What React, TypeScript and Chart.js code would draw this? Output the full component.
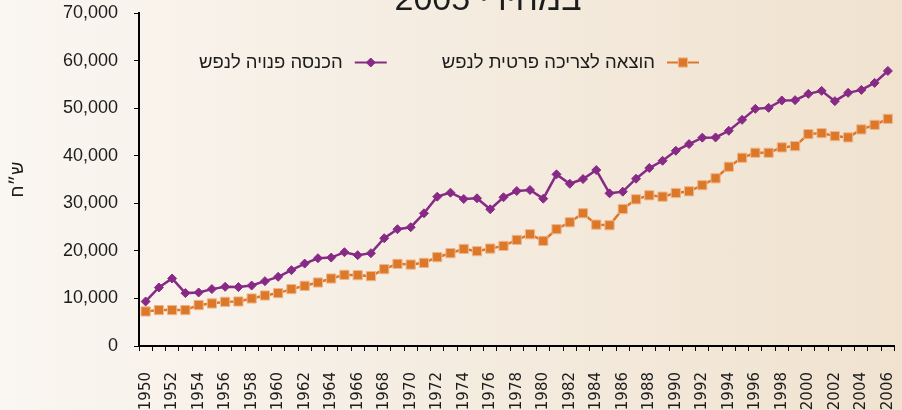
import React, { useEffect, useRef } from 'react';
import { Chart, registerables } from 'chart.js';

Chart.register(...registerables);

const years = [
  '1950', '1951', '1952', '1953', '1954', '1955', '1956', '1957', '1958', '1959',
  '1960', '1961', '1962', '1963', '1964', '1965', '1966', '1967', '1968', '1969',
  '1970', '1971', '1972', '1973', '1974', '1975', '1976', '1977', '1978', '1979',
  '1980', '1981', '1982', '1983', '1984', '1985', '1986', '1987', '1988', '1989',
  '1990', '1991', '1992', '1993', '1994', '1995', '1996', '1997', '1998', '1999',
  '2000', '2001', '2002', '2003', '2004', '2005', '2006',
];

const disposableIncome = [
  9360, 12300, 14190, 11120, 11250, 11960, 12440, 12380, 12710, 13630,
  14540, 15940, 17330, 18450, 18590, 19720, 19090, 19510, 22660, 24550,
  24970, 27900, 31390, 32230, 30900, 31050, 28740, 31260, 32580, 32790,
  30970, 36080, 34110, 35100, 36990, 32090, 32440, 35170, 37410, 38940,
  41040, 42440, 43800, 43840, 45240, 47540, 49850, 50060, 51610, 51680,
  53000, 53630, 51470, 53210, 53840, 55310, 57820,
];

const privateConsumption = [
  7260, 7550, 7550, 7550, 8600, 8940, 9290, 9360, 9990, 10620,
  11120, 11960, 12650, 13350, 14190, 14960, 14890, 14690, 16150, 17270,
  17120, 17480, 18670, 19510, 20410, 19930, 20480, 21040, 22300, 23490,
  22090, 24550, 26010, 27900, 25510, 25380, 28800, 30840, 31680, 31390,
  32160, 32520, 33800, 35250, 37680, 39570, 40620, 40620, 41750, 42020,
  44540, 44750, 44120, 43850, 45530, 46490, 47750,
];

const incomeLabel = 'הכנסה פנויה לנפש';
const consumptionLabel = 'הוצאה לצריכה פרטית לנפש';
const yAxisTitle = 'ש״ח';
const chartTitle = 'במחירי 2005';
const yMin = 0;
const yMax = 70000;
const yStep = 10000;

const PURPLE = '#862a86';
const ORANGE = '#dc782a';
const ORANGE_EDGE = '#f0b58a';
const TEXT = '#1c1c1c';

const titlePlugin = {
  id: 'clippedTitle',
  afterDraw(chart: any) {
    const ctx = chart.ctx;
    ctx.save();
    ctx.font = '34px "Liberation Sans", Arial, sans-serif';
    ctx.fillStyle = TEXT;
    ctx.direction = 'rtl';
    ctx.textAlign = 'center';
    ctx.textBaseline = 'alphabetic';
    ctx.fillText(chartTitle, 488, 10);
    ctx.restore();
  },
};

const legendPlugin = {
  id: 'rtlLegend',
  afterDraw(chart: any) {
    const ctx = chart.ctx;
    const order = [1, 0];
    let x = 699;
    const y = 62.5;
    ctx.save();
    ctx.font = '18.5px "Liberation Sans", Arial, sans-serif';
    ctx.textBaseline = 'middle';
    ctx.textAlign = 'right';
    for (const i of order) {
      const ds = chart.data.datasets[i];
      const lineRight = x;
      const lineLeft = x - 32;
      ctx.strokeStyle = ds.borderColor;
      ctx.lineWidth = 2;
      ctx.beginPath();
      ctx.moveTo(lineLeft, y);
      ctx.lineTo(lineRight, y);
      ctx.stroke();
      const cx = (lineLeft + lineRight) / 2;
      ctx.fillStyle = ds.pointBackgroundColor;
      ctx.strokeStyle = ds.pointBorderColor;
      ctx.lineWidth = 1;
      ctx.beginPath();
      if (ds.pointStyle === 'rectRot') {
        const r = 4.5;
        ctx.moveTo(cx, y - r);
        ctx.lineTo(cx + r, y);
        ctx.lineTo(cx, y + r);
        ctx.lineTo(cx - r, y);
        ctx.closePath();
      } else {
        const h = 4.6;
        ctx.rect(cx - h, y - h, 2 * h, 2 * h);
      }
      ctx.fill();
      ctx.stroke();
      const textRight = lineLeft - 12;
      ctx.fillStyle = TEXT;
      ctx.fillText(ds.label, textRight, y);
      const w = ctx.measureText(ds.label).width;
      x = textRight - w - 55;
    }
    ctx.restore();
  },
};

export default function App() {
  const canvasRef = useRef<HTMLCanvasElement | null>(null);

  useEffect(() => {
    const canvas = canvasRef.current;
    if (!canvas) return;
    const chart = new Chart(canvas, {
      type: 'line',
      data: {
        labels: years,
        datasets: [
          {
            label: incomeLabel,
            data: disposableIncome,
            borderColor: PURPLE,
            backgroundColor: PURPLE,
            pointBackgroundColor: PURPLE,
            pointBorderColor: PURPLE,
            pointStyle: 'rectRot',
            pointRadius: 4.5,
            pointBorderWidth: 1,
            borderWidth: 2.5,
            tension: 0,
          },
          {
            label: consumptionLabel,
            data: privateConsumption,
            borderColor: ORANGE,
            backgroundColor: ORANGE,
            pointBackgroundColor: ORANGE,
            pointBorderColor: ORANGE_EDGE,
            pointStyle: 'rect',
            pointRadius: 6.5,
            pointBorderWidth: 1,
            borderWidth: 2.5,
            tension: 0,
          },
        ],
      },
      options: {
        responsive: false,
        animation: false,
        locale: 'en-US',
        layout: { padding: { top: 13, right: 0, bottom: 0, left: 0 } },
        plugins: {
          legend: { display: false },
          title: { display: false },
          tooltip: { enabled: false },
        },
        scales: {
          x: {
            type: 'category',
            offset: true,
            grid: {
              drawOnChartArea: false,
              drawTicks: true,
              tickLength: 5,
              color: '#000',
              lineWidth: 1,
              offset: true,
            },
            border: { display: true, color: '#000', width: 2 },
            ticks: {
              autoSkip: false,
              minRotation: 90,
              maxRotation: 90,
              padding: 21,
              color: TEXT,
              font: { family: '"DejaVu Sans", sans-serif', size: 15 },
              callback: (_v: any, i: number) => (i % 2 === 0 ? years[i] : ''),
            },
            afterFit: (scale: any) => {
              scale.height = 64;
              scale.paddingLeft = 0;
              scale.paddingRight = 0;
            },
          },
          y: {
            type: 'linear',
            min: yMin,
            max: yMax,
            grid: {
              drawOnChartArea: false,
              drawTicks: true,
              tickLength: 5,
              color: '#000',
              lineWidth: 1,
            },
            border: { display: true, color: '#000', width: 2 },
            ticks: {
              stepSize: yStep,
              padding: 16,
              color: TEXT,
              font: { family: '"Liberation Sans", Arial, sans-serif', size: 18 },
            },
            title: {
              display: true,
              text: yAxisTitle,
              color: TEXT,
              font: { family: '"Liberation Sans", Arial, sans-serif', size: 18 },
              padding: { top: 7, bottom: 0 },
            },
            afterFit: (scale: any) => {
              scale.width = 139;
              scale.paddingTop = 0;
              scale.paddingBottom = 0;
            },
          },
        },
      },
      plugins: [titlePlugin, legendPlugin],
    });
    return () => chart.destroy();
  }, []);

  return (
    <div
      style={{
        position: 'absolute',
        left: 0,
        top: 0,
        width: 902,
        height: 410,
        overflow: 'hidden',
        background: 'linear-gradient(to right, #faf6f1 0%, #f5ede2 45%, #f0e2cf 100%)',
      }}
    >
      <canvas ref={canvasRef} width={902} height={410} style={{ display: 'block' }} />
    </div>
  );
}
